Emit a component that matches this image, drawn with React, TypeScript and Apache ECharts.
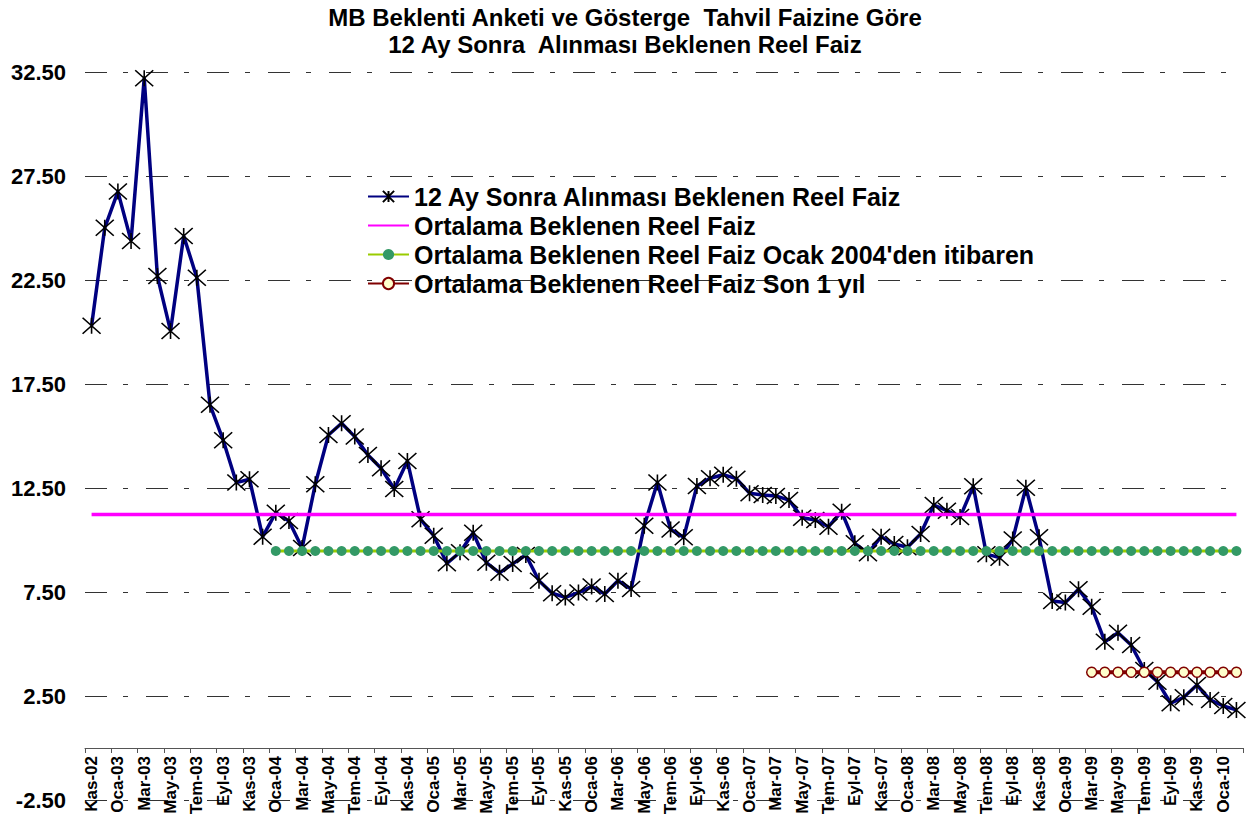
import React, { useEffect, useRef } from "react";
import * as echarts from "echarts";

const titleLines = [
  "MB Beklenti Anketi ve Gösterge  Tahvil Faizine Göre",
  "12 Ay Sonra  Alınması Beklenen Reel Faiz",
];

const categories = [
  "Kas-02", "Ara-02",
  "Oca-03", "Şub-03", "Mar-03", "Nis-03", "May-03", "Haz-03", "Tem-03", "Ağu-03", "Eyl-03", "Eki-03", "Kas-03", "Ara-03",
  "Oca-04", "Şub-04", "Mar-04", "Nis-04", "May-04", "Haz-04", "Tem-04", "Ağu-04", "Eyl-04", "Eki-04", "Kas-04", "Ara-04",
  "Oca-05", "Şub-05", "Mar-05", "Nis-05", "May-05", "Haz-05", "Tem-05", "Ağu-05", "Eyl-05", "Eki-05", "Kas-05", "Ara-05",
  "Oca-06", "Şub-06", "Mar-06", "Nis-06", "May-06", "Haz-06", "Tem-06", "Ağu-06", "Eyl-06", "Eki-06", "Kas-06", "Ara-06",
  "Oca-07", "Şub-07", "Mar-07", "Nis-07", "May-07", "Haz-07", "Tem-07", "Ağu-07", "Eyl-07", "Eki-07", "Kas-07", "Ara-07",
  "Oca-08", "Şub-08", "Mar-08", "Nis-08", "May-08", "Haz-08", "Tem-08", "Ağu-08", "Eyl-08", "Eki-08", "Kas-08", "Ara-08",
  "Oca-09", "Şub-09", "Mar-09", "Nis-09", "May-09", "Haz-09", "Tem-09", "Ağu-09", "Eyl-09", "Eki-09", "Kas-09", "Ara-09",
  "Oca-10", "Şub-10",
];

// 12 Ay Sonra Alınması Beklenen Reel Faiz
const expectedRealRate = [
  20.30, 25.01,
  26.75, 24.38, 32.20, 22.69, 20.05, 24.62, 22.61, 16.50, 14.80, 12.76, 12.92, 10.16,
  11.31, 10.91, 9.62, 12.68, 15.05, 15.61, 14.97, 14.09, 13.45, 12.45, 13.80, 11.00,
  10.21, 8.88, 9.41, 10.35, 8.91, 8.42, 8.85, 9.28, 8.04, 7.44, 7.24, 7.47,
  7.76, 7.40, 8.04, 7.64, 10.69, 12.76, 10.51, 10.13, 12.60, 12.97, 13.14, 12.95,
  12.25, 12.16, 12.12, 11.92, 11.07, 10.96, 10.64, 11.36, 9.84, 9.36, 10.16, 9.81,
  9.65, 10.29, 11.68, 11.41, 11.10, 12.58, 9.32, 9.15, 10.03, 12.51, 10.13, 7.07,
  6.99, 7.63, 6.79, 5.11, 5.54, 4.95, 3.75, 3.19, 2.15, 2.44, 3.03, 2.31,
  2.02, 1.83,
];

const overallAverage = 11.23;
const averageSince2004 = 9.47;
const averageLastYear = 3.64;
const since2004Start = "Oca-04";
const lastYearStart = "Mar-09";

const seriesNames = [
  "12 Ay Sonra Alınması Beklenen Reel Faiz",
  "Ortalama Beklenen Reel Faiz",
  "Ortalama Beklenen Reel Faiz Ocak 2004'den itibaren",
  "Ortalama Beklenen Reel Faiz Son 1 yıl",
];

const yTicks = { min: -2.5, max: 32.5, interval: 5 };

const FONT = "'Liberation Sans', Arial, Helvetica, sans-serif";

const GRID_TOP = 72;
const GRID_BOTTOM = 31;
const CHART_H = 831;

export default function App() {
  const ref = useRef<HTMLDivElement>(null);

  useEffect(() => {
    if (!ref.current) return;
    const chart = echarts.init(ref.current, null, { renderer: "svg" });

    const i2004 = categories.indexOf(since2004Start);
    const iLast = categories.indexOf(lastYearStart);
    const overallData = categories.map(() => overallAverage);
    const since2004Data = categories.map((_, i) => (i >= i2004 ? averageSince2004 : null));
    const lastYearData = categories.map((_, i) => (i >= iLast ? averageLastYear : null));

    // distance from grid bottom (min value) up to the zero line, so the category axis sits on zero
    const plotH = CHART_H - GRID_TOP - GRID_BOTTOM;
    const zeroOffset = (plotH * (0 - yTicks.min)) / (yTicks.max - yTicks.min);

    const option: any = {
      animation: false,
      backgroundColor: "#ffffff",
      title: {
        text: titleLines.join("\n"),
        left: "center",
        top: 4,
        padding: 0,
        textStyle: {
          fontFamily: FONT,
          fontWeight: "bold",
          fontSize: 24,
          lineHeight: 27,
          color: "#000",
        },
      },
      legend: {
        orient: "vertical",
        left: 367,
        top: 184,
        padding: 0,
        itemWidth: 41,
        itemHeight: 14,
        itemGap: 4,
        textStyle: {
          fontFamily: FONT,
          fontWeight: "bold",
          fontSize: 25,
          lineHeight: 24.5,
          color: "#000",
        },
        data: [
          { name: seriesNames[0] },
          { name: seriesNames[1], itemStyle: { color: "rgba(0,0,0,0)", borderWidth: 0 } },
          { name: seriesNames[2] },
          { name: seriesNames[3] },
        ],
      },
      grid: {
        left: 85,
        right: 7,
        top: GRID_TOP,
        bottom: GRID_BOTTOM,
        containLabel: false,
        outerBoundsMode: "none",
      },
      xAxis: {
        type: "category",
        data: categories,
        boundaryGap: true,
        offset: -zeroOffset,
        axisLine: { onZero: false, lineStyle: { color: "#555", width: 1 } },
        axisTick: { show: true, interval: 1, length: 5, lineStyle: { color: "#555" } },
        axisLabel: {
          interval: 1,
          rotate: 90,
          margin: 8,
          fontFamily: FONT,
          fontWeight: "bold",
          fontSize: 17,
          color: "#000",
        },
        splitLine: { show: false },
      },
      yAxis: {
        type: "value",
        min: yTicks.min,
        max: yTicks.max,
        interval: yTicks.interval,
        axisLine: { show: false },
        axisTick: { show: false },
        axisLabel: {
          margin: 19,
          fontFamily: FONT,
          fontWeight: "bold",
          fontSize: 22,
          color: "#000",
          formatter: (v: number) => v.toFixed(2),
        },
        splitLine: {
          show: true,
          lineStyle: { color: "#333", width: 1, type: [22, 16, 5, 18] },
        },
      },
      series: [
        {
          name: seriesNames[0],
          type: "line",
          data: expectedRealRate,
          symbol: "path://M0,0L18,16M18,0L0,16M9,0L9,16",
          symbolSize: [18, 16],
          showAllSymbol: true,
          lineStyle: { color: "#000080", width: 3.5 },
          itemStyle: { color: "rgba(0,0,0,0)", borderColor: "#000", borderWidth: 1.5 },
          z: 2,
        },
        {
          name: seriesNames[1],
          type: "line",
          data: overallData,
          symbol: "none",
          lineStyle: { color: "#FF00FF", width: 3.5 },
          itemStyle: { color: "#FF00FF" },
          z: 3,
        },
        {
          name: seriesNames[2],
          type: "line",
          data: since2004Data,
          symbol: "circle",
          symbolSize: 10,
          showAllSymbol: true,
          lineStyle: { color: "#99CC00", width: 3 },
          itemStyle: { color: "#339966", borderWidth: 0 },
          z: 4,
        },
        {
          name: seriesNames[3],
          type: "line",
          data: lastYearData,
          symbol: "circle",
          symbolSize: 10,
          showAllSymbol: true,
          lineStyle: { color: "#800000", width: 4 },
          itemStyle: { color: "#FFFFCC", borderColor: "#800000", borderWidth: 1.5 },
          z: 5,
        },
      ],
    };

    chart.setOption(option);
    return () => chart.dispose();
  }, []);

  return (
    <div
      ref={ref}
      style={{ position: "fixed", left: 0, top: 0, width: 1250, height: CHART_H, background: "#fff" }}
    />
  );
}
